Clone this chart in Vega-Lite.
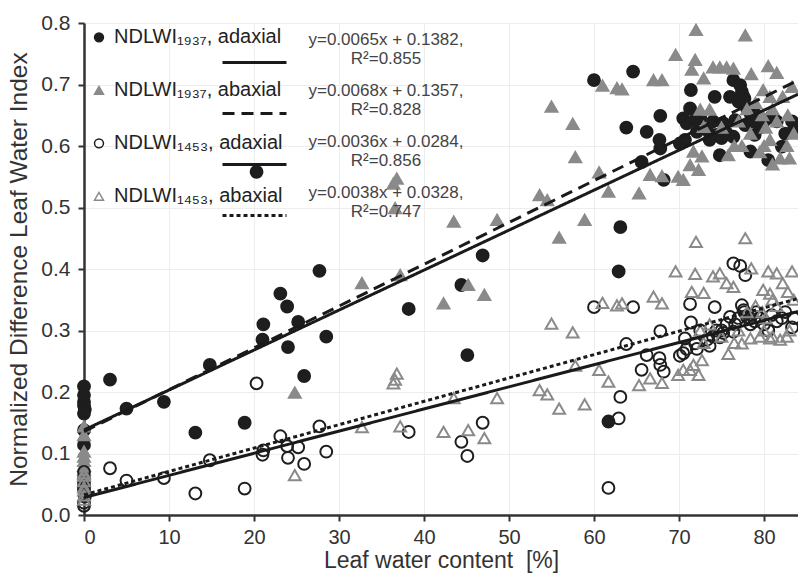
{
  "$schema": "https://vega.github.io/schema/vega-lite/v6.json",
  "width": 714,
  "height": 492,
  "autosize": {"type": "none"},
  "padding": {"left": 84, "top": 23, "right": 0, "bottom": 59},
  "background": "white",
  "config": {
    "font": "Liberation Sans",
    "view": {"stroke": null},
    "axis": {
      "labelFont": "Liberation Sans",
      "titleFont": "Liberation Sans",
      "labelColor": "#333",
      "titleColor": "#333",
      "titleFontWeight": "normal",
      "domainColor": "#333",
      "domainWidth": 2.5,
      "tickColor": "#333",
      "tickWidth": 2,
      "tickSize": 6,
      "gridColor": "#ededed",
      "gridWidth": 1
    }
  },
  "layer": [
    {
      "data": {
        "values": [
          {"x": 0, "A": 0.209, "C": 0.07},
          {"x": 0, "A": 0.195, "C": 0.052},
          {"x": 0, "A": 0.184, "C": 0.041},
          {"x": 0, "A": 0.178, "C": 0.02},
          {"x": 0, "A": 0.165, "C": 0.015},
          {"x": 0, "A": 0.138, "C": 0.06},
          {"x": 0, "A": 0.114, "C": 0.045},
          {"x": 0.1, "A": 0.172, "C": 0.03},
          {"x": 3.06, "A": 0.22, "C": 0.076},
          {"x": 5.0, "A": 0.173, "C": 0.056},
          {"x": 9.4, "A": 0.184, "C": 0.06},
          {"x": 13.1, "A": 0.134, "C": 0.035},
          {"x": 14.8, "A": 0.244, "C": 0.089},
          {"x": 18.9, "A": 0.15, "C": 0.043},
          {"x": 20.3, "A": 0.558, "C": 0.214},
          {"x": 21.1, "A": 0.31, "C": 0.105},
          {"x": 21.0, "A": 0.285, "C": 0.098},
          {"x": 23.1, "A": 0.36, "C": 0.128},
          {"x": 23.9, "A": 0.339, "C": 0.112},
          {"x": 24.0, "A": 0.273, "C": 0.093},
          {"x": 25.2, "A": 0.314, "C": 0.11},
          {"x": 25.9, "A": 0.226, "C": 0.083},
          {"x": 27.7, "A": 0.397, "C": 0.144},
          {"x": 28.5, "A": 0.29, "C": 0.103},
          {"x": 38.2, "A": 0.335, "C": 0.135},
          {"x": 44.4, "A": 0.374, "C": 0.119},
          {"x": 45.1, "A": 0.26, "C": 0.096},
          {"x": 46.9, "A": 0.422, "C": 0.15},
          {"x": 60.0, "A": 0.707, "C": 0.338},
          {"x": 61.7, "A": 0.152, "C": 0.044},
          {"x": 62.9, "A": 0.396, "C": 0.157},
          {"x": 63.1, "A": 0.468, "C": 0.192},
          {"x": 63.8, "A": 0.63, "C": 0.278},
          {"x": 64.6, "A": 0.721, "C": 0.338},
          {"x": 65.6, "A": 0.574, "C": 0.236},
          {"x": 66.2, "A": 0.623, "C": 0.26},
          {"x": 67.7, "A": 0.61, "C": 0.255},
          {"x": 67.8, "A": 0.596, "C": 0.244},
          {"x": 67.8, "A": 0.649, "C": 0.299},
          {"x": 68.2, "A": 0.545, "C": 0.233},
          {"x": 70.1, "A": 0.604, "C": 0.259},
          {"x": 70.5, "A": 0.645, "C": 0.263},
          {"x": 70.7, "A": 0.61, "C": 0.287},
          {"x": 70.9, "A": 0.637, "C": 0.27},
          {"x": 71.3, "A": 0.661, "C": 0.343},
          {"x": 71.4, "A": 0.691, "C": 0.313},
          {"x": 71.9, "A": 0.642, "C": 0.279},
          {"x": 72.1, "A": 0.623, "C": 0.27},
          {"x": 72.5, "A": 0.645, "C": 0.3},
          {"x": 73.3, "A": 0.626, "C": 0.285},
          {"x": 73.6, "A": 0.61, "C": 0.275},
          {"x": 74.0, "A": 0.64, "C": 0.29},
          {"x": 74.2, "A": 0.68, "C": 0.338},
          {"x": 74.4, "A": 0.618, "C": 0.3},
          {"x": 74.8, "A": 0.585, "C": 0.289},
          {"x": 75.0, "A": 0.613, "C": 0.3},
          {"x": 75.2, "A": 0.637, "C": 0.296},
          {"x": 75.6, "A": 0.621, "C": 0.31},
          {"x": 76.0, "A": 0.68, "C": 0.322},
          {"x": 76.4, "A": 0.707, "C": 0.409},
          {"x": 76.4, "A": 0.615, "C": 0.298},
          {"x": 76.6, "A": 0.642, "C": 0.31},
          {"x": 77.0, "A": 0.672, "C": 0.32},
          {"x": 77.2, "A": 0.699, "C": 0.405},
          {"x": 77.4, "A": 0.688, "C": 0.341},
          {"x": 77.6, "A": 0.68, "C": 0.333},
          {"x": 77.7, "A": 0.677, "C": 0.33},
          {"x": 77.8, "A": 0.634, "C": 0.39},
          {"x": 78.0, "A": 0.661, "C": 0.322},
          {"x": 78.4, "A": 0.591, "C": 0.31},
          {"x": 78.4, "A": 0.653, "C": 0.32},
          {"x": 78.5, "A": 0.64, "C": 0.325},
          {"x": 78.9, "A": 0.618, "C": 0.315},
          {"x": 79.1, "A": 0.65, "C": 0.33},
          {"x": 79.5, "A": 0.63, "C": 0.32},
          {"x": 80.0, "A": 0.64, "C": 0.31},
          {"x": 80.5, "A": 0.577, "C": 0.3},
          {"x": 80.9, "A": 0.648, "C": 0.325},
          {"x": 81.5, "A": 0.64, "C": 0.315},
          {"x": 82.1, "A": 0.599, "C": 0.32},
          {"x": 82.5, "A": 0.62, "C": 0.33},
          {"x": 83.3, "A": 0.64, "C": 0.305},
          {"x": 83.5, "A": 0.625, "C": 0.32},
          {"x": 0, "B": 0.144, "D": 0.068},
          {"x": 0, "B": 0.13, "D": 0.064},
          {"x": 0, "B": 0.103, "D": 0.032},
          {"x": 0, "B": 0.095, "D": 0.045},
          {"x": 0, "B": 0.088, "D": 0.055},
          {"x": 0, "B": 0.08, "D": 0.025},
          {"x": 0, "B": 0.073, "D": 0.04},
          {"x": 24.8, "B": 0.199, "D": 0.065},
          {"x": 32.7, "B": 0.377, "D": 0.143},
          {"x": 36.4, "B": 0.539, "D": 0.214},
          {"x": 36.8, "B": 0.547, "D": 0.23},
          {"x": 36.6, "B": 0.499, "D": 0.22},
          {"x": 37.2, "B": 0.39, "D": 0.144},
          {"x": 42.3, "B": 0.344, "D": 0.135},
          {"x": 43.5, "B": 0.477, "D": 0.19},
          {"x": 45.2, "B": 0.374, "D": 0.138},
          {"x": 47.1, "B": 0.358, "D": 0.125},
          {"x": 48.6, "B": 0.48, "D": 0.19},
          {"x": 53.6, "B": 0.52, "D": 0.203},
          {"x": 54.5, "B": 0.512, "D": 0.196},
          {"x": 55.0, "B": 0.664, "D": 0.311},
          {"x": 55.9, "B": 0.451, "D": 0.173},
          {"x": 57.5, "B": 0.636, "D": 0.297},
          {"x": 57.8, "B": 0.582, "D": 0.243},
          {"x": 58.9, "B": 0.48, "D": 0.18},
          {"x": 60.6, "B": 0.557, "D": 0.236},
          {"x": 61.0, "B": 0.698, "D": 0.345},
          {"x": 61.7, "B": 0.526, "D": 0.217},
          {"x": 62.7, "B": 0.694, "D": 0.341},
          {"x": 63.3, "B": 0.692, "D": 0.344},
          {"x": 65.3, "B": 0.523, "D": 0.211},
          {"x": 66.6, "B": 0.553, "D": 0.222},
          {"x": 67.0, "B": 0.707, "D": 0.355},
          {"x": 68.0, "B": 0.551, "D": 0.215},
          {"x": 68.0, "B": 0.707, "D": 0.344},
          {"x": 69.6, "B": 0.748, "D": 0.396},
          {"x": 69.9, "B": 0.55, "D": 0.228},
          {"x": 70.5, "B": 0.545, "D": 0.236},
          {"x": 71.3, "B": 0.569, "D": 0.236},
          {"x": 71.5, "B": 0.724, "D": 0.363},
          {"x": 71.7, "B": 0.591, "D": 0.244},
          {"x": 71.9, "B": 0.74, "D": 0.392},
          {"x": 72.0, "B": 0.789, "D": 0.444},
          {"x": 72.3, "B": 0.561, "D": 0.228},
          {"x": 72.5, "B": 0.659, "D": 0.3},
          {"x": 72.7, "B": 0.583, "D": 0.252},
          {"x": 72.9, "B": 0.71, "D": 0.361},
          {"x": 72.9, "B": 0.631, "D": 0.28},
          {"x": 73.6, "B": 0.659, "D": 0.31},
          {"x": 74.0, "B": 0.728, "D": 0.388},
          {"x": 74.8, "B": 0.728, "D": 0.393},
          {"x": 75.0, "B": 0.63, "D": 0.29},
          {"x": 75.6, "B": 0.728, "D": 0.377},
          {"x": 75.8, "B": 0.585, "D": 0.262},
          {"x": 76.4, "B": 0.726, "D": 0.371},
          {"x": 76.5, "B": 0.6, "D": 0.28},
          {"x": 77.0, "B": 0.64, "D": 0.3},
          {"x": 77.4, "B": 0.6, "D": 0.279},
          {"x": 77.8, "B": 0.78, "D": 0.45},
          {"x": 78.0, "B": 0.66, "D": 0.33},
          {"x": 78.4, "B": 0.62, "D": 0.287},
          {"x": 78.5, "B": 0.717, "D": 0.401},
          {"x": 79.0, "B": 0.67, "D": 0.34},
          {"x": 79.5, "B": 0.59, "D": 0.29},
          {"x": 79.8, "B": 0.65, "D": 0.33},
          {"x": 79.9, "B": 0.691, "D": 0.366},
          {"x": 80.0, "B": 0.6, "D": 0.3},
          {"x": 80.2, "B": 0.63, "D": 0.32},
          {"x": 80.5, "B": 0.73, "D": 0.396},
          {"x": 80.7, "B": 0.61, "D": 0.287},
          {"x": 80.7, "B": 0.68, "D": 0.36},
          {"x": 81.0, "B": 0.66, "D": 0.35},
          {"x": 81.0, "B": 0.57, "D": 0.29},
          {"x": 81.5, "B": 0.719, "D": 0.393},
          {"x": 81.5, "B": 0.64, "D": 0.34},
          {"x": 81.9, "B": 0.58, "D": 0.285},
          {"x": 82.2, "B": 0.68, "D": 0.377},
          {"x": 82.7, "B": 0.6, "D": 0.29},
          {"x": 82.8, "B": 0.65, "D": 0.363},
          {"x": 83.0, "B": 0.58, "D": 0.3},
          {"x": 83.3, "B": 0.696, "D": 0.396},
          {"x": 83.5, "B": 0.62, "D": 0.35}
        ]
      },
      "transform": [
        {"fold": ["A", "B", "C", "D"], "as": ["s", "y"]},
        {"filter": "isValid(datum.y)"}
      ],
      "mark": {"type": "point", "opacity": 1, "strokeWidth": 2, "size": 140},
      "encoding": {
        "x": {
          "field": "x", "type": "quantitative",
          "scale": {"domain": [0, 84], "nice": false, "zero": false},
          "axis": {
            "values": [0, 10, 20, 30, 40, 50, 60, 70, 80],
            "title": "Leaf water content\u00a0 [%]",
            "labelFontSize": 20, "titleFontSize": 23,
            "labelPadding": 6, "titlePadding": 2
          }
        },
        "y": {
          "field": "y", "type": "quantitative",
          "scale": {"domain": [0, 0.8], "nice": false},
          "axis": {
            "values": [0, 0.1, 0.2, 0.3, 0.4, 0.5, 0.6, 0.7, 0.8],
            "format": ".1f",
            "title": "Normalized Difference Leaf Water Index",
            "labelFontSize": 21, "titleFontSize": 24.5,
            "labelPadding": 8, "titlePadding": 9
          }
        },
        "shape": {
          "field": "s", "type": "nominal",
          "scale": {"domain": ["A", "B", "C", "D"], "range": ["circle", "triangle-up", "circle", "triangle-up"]},
          "legend": {
            "orient": "none", "legendX": 5, "legendY": -12,
            "title": null, "padding": 0,
            "labelExpr": "{'A': 'NDLWI₁₉₃₇, adaxial', 'B': 'NDLWI₁₉₃₇, abaxial', 'C': 'NDLWI₁₄₅₃, adaxial', 'D': 'NDLWI₁₄₅₃, abaxial'}[datum.label]",
            "labelFontSize": 20, "labelColor": "#222", "labelLimit": 0,
            "labelOffset": 5, "symbolSize": 80, "symbolStrokeWidth": 1.5,
            "clipHeight": 52.7, "rowPadding": 0
          }
        },
        "fill": {
          "field": "s", "type": "nominal",
          "scale": {"domain": ["A", "B", "C", "D"], "range": ["#1e1e1e", "#8a8a8a", "transparent", "transparent"]}
        },
        "stroke": {
          "field": "s", "type": "nominal",
          "scale": {"domain": ["A", "B", "C", "D"], "range": ["#1e1e1e", "#8a8a8a", "#1e1e1e", "#8a8a8a"]}
        },
        "order": {"field": "s"}
      }
    },
    {
      "data": {
        "values": [
          {"eq": "a", "x": 0, "y": 0.1382},
          {"eq": "a", "x": 84, "y": 0.6842},
          {"eq": "b", "x": 0, "y": 0.1357},
          {"eq": "b", "x": 84, "y": 0.7069},
          {"eq": "c", "x": 0, "y": 0.0284},
          {"eq": "c", "x": 84, "y": 0.3308},
          {"eq": "d", "x": 0, "y": 0.0328},
          {"eq": "d", "x": 84, "y": 0.352}
        ]
      },
      "mark": {"type": "line", "color": "#1a1a1a"},
      "encoding": {
        "x": {"field": "x", "type": "quantitative"},
        "y": {"field": "y", "type": "quantitative"},
        "strokeDash": {
          "field": "eq", "type": "nominal",
          "scale": {"domain": ["a", "b", "c", "d"], "range": [[1, 0], [12, 7], [1, 0], [4, 3]]},
          "legend": {
            "orient": "none", "legendX": 137, "legendY": 6,
            "title": null, "padding": 0,
            "symbolType": "stroke", "symbolSize": 4096, "symbolStrokeColor": "#1a1a1a",
            "symbolStrokeWidth": {"expr": "datum.value == 'a' || datum.value == 'b' ? 3.5 : 1.8"},
            "labelExpr": "{'a': ['y=0.0065x + 0.1382,', 'R²=0.855'], 'b': ['y=0.0068x + 0.1357,', 'R²=0.828'], 'c': ['y=0.0036x + 0.0284,', 'R²=0.856'], 'd': ['y=0.0038x + 0.0328,', 'R²=0.747']}[datum.label]",
            "labelAlign": "center", "labelBaseline": "middle", "labelOffset": 98,
            "labelFontSize": 17, "labelColor": "#444", "labelLimit": 0, "labelLineHeight": 20,
            "rowPadding": 11,
            "encode": {
              "labels": {"update": {"dy": {"value": -23}}}
            }
          }
        },
        "strokeWidth": {
          "field": "eq", "type": "nominal",
          "scale": {"domain": ["a", "b", "c", "d"], "range": [3, 3, 1.1, 1.1]}
        }
      }
    }
  ]
}
